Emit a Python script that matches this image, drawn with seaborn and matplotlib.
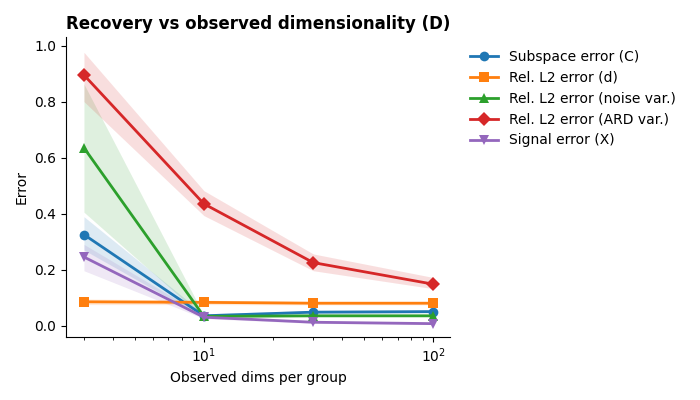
import numpy as np
import pandas as pd
import matplotlib
matplotlib.use('Agg')
import matplotlib.pyplot as plt
import seaborn as sns

# observed dims per group
dims = [3, 10, 30, 100]

labels = ['Subspace error (C)', 'Rel. L2 error (d)', 'Rel. L2 error (noise var.)',
          'Rel. L2 error (ARD var.)', 'Signal error (X)']
markers = ['o', 's', '^', 'D', 'v']
colors = ['#1f77b4', '#ff7f0e', '#2ca02c', '#d62728', '#9467bd']

# mean values
subspace_C = [0.325, 0.035, 0.048, 0.050]
rel_d = [0.085, 0.083, 0.080, 0.080]
rel_noise = [0.635, 0.033, 0.035, 0.035]
rel_ard = [0.895, 0.435, 0.225, 0.148]
signal_X = [0.245, 0.030, 0.012, 0.007]

# band lower / upper
subspace_C_lo = [0.270, 0.028, 0.042, 0.045]
subspace_C_hi = [0.389, 0.042, 0.054, 0.056]
rel_d_lo = [0.075, 0.075, 0.074, 0.074]
rel_d_hi = [0.095, 0.091, 0.086, 0.086]
rel_noise_lo = [0.405, 0.028, 0.031, 0.031]
rel_noise_hi = [0.863, 0.038, 0.039, 0.039]
rel_ard_lo = [0.800, 0.393, 0.196, 0.132]
rel_ard_hi = [0.976, 0.482, 0.256, 0.172]
signal_X_lo = [0.196, 0.025, 0.008, 0.004]
signal_X_hi = [0.290, 0.036, 0.016, 0.010]

means = [subspace_C, rel_d, rel_noise, rel_ard, signal_X]
lows = [subspace_C_lo, rel_d_lo, rel_noise_lo, rel_ard_lo, signal_X_lo]
highs = [subspace_C_hi, rel_d_hi, rel_noise_hi, rel_ard_hi, signal_X_hi]

fig, ax = plt.subplots(figsize=(7, 4), dpi=100)

for lab, m, c, mean, lo, hi in zip(labels, markers, colors, means, lows, highs):
    df = pd.DataFrame({'D': dims, 'err': mean})
    sns.lineplot(data=df, x='D', y='err', marker=m, color=c, label=lab,
                 linewidth=2, markersize=7, markeredgewidth=0, ax=ax)
    ax.fill_between(dims, lo, hi, color=c, alpha=0.15, linewidth=0)

ax.set_xscale('log')
ax.set_xlim(2.5, 118.6)
ax.set_ylim(-0.04, 1.03)
ax.set_yticks([0.0, 0.2, 0.4, 0.6, 0.8, 1.0])
ax.set_xlabel('Observed dims per group')
ax.set_ylabel('Error')
ax.set_title('Recovery vs observed dimensionality (D)', fontweight='bold')
sns.despine(ax=ax)
ax.legend(loc='upper left', bbox_to_anchor=(1.02, 1.0), frameon=False)

plt.subplots_adjust(left=0.094, right=0.643, bottom=0.158, top=0.907)
plt.savefig('out.png', dpi=100)
